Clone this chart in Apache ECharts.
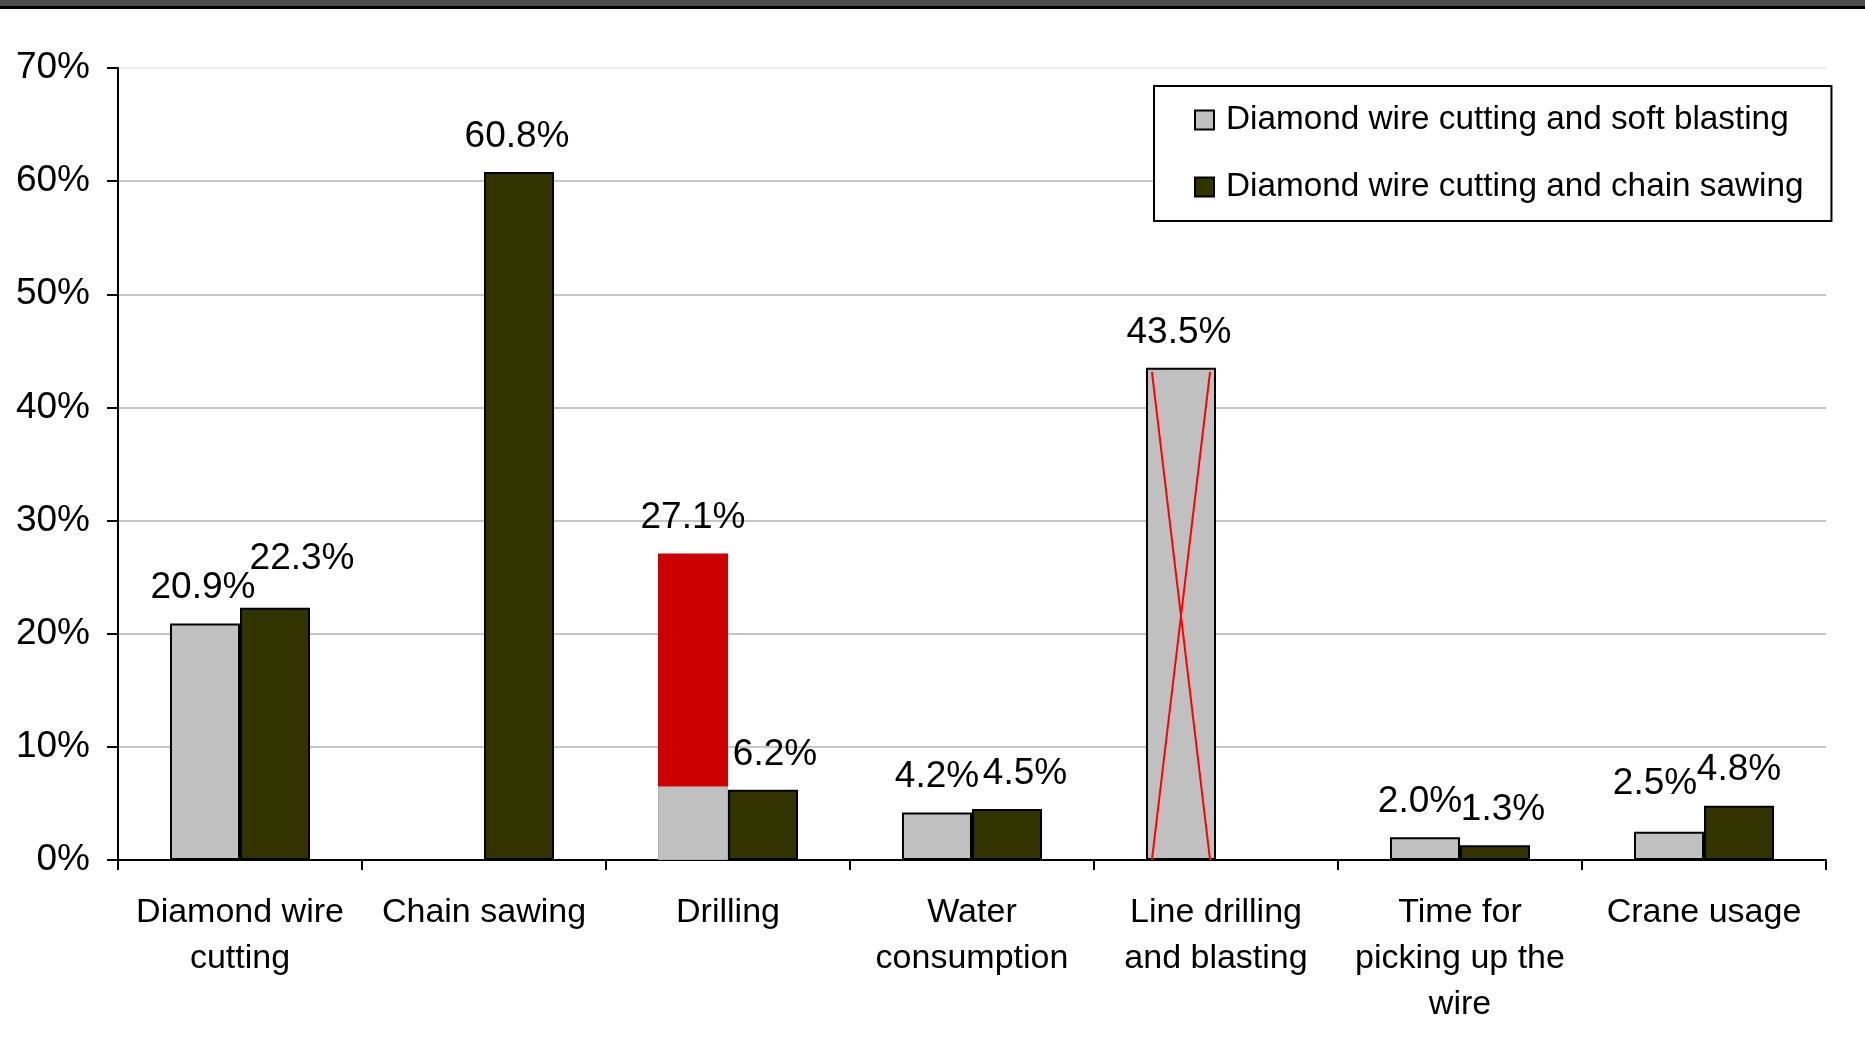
<!DOCTYPE html>
<html>
<head>
<meta charset="utf-8">
<script src="https://cdn.jsdelivr.net/npm/echarts@6/dist/echarts.min.js"></script>
<style>
html,body{margin:0;padding:0;background:#fff;}
#chart{width:1865px;height:1059px;}
</style>
</head>
<body>
<div id="chart"></div>
<script>
// ---- data ----
const categories = ['Diamond wire\ncutting', 'Chain sawing', 'Drilling', 'Water\nconsumption', 'Line drilling\nand blasting', 'Time for\npicking up the\nwire', 'Crane usage'];
const seriesNames = ['Diamond wire cutting and soft blasting', 'Diamond wire cutting and chain sawing'];
const softBlasting = [20.9, null, 27.1, 4.2, 43.5, 2.0, 2.5];
const chainSawing = [22.3, 60.8, 6.2, 4.5, null, 1.3, 4.8];
const drillingIndex = 2;          // bar highlighted in red above the gray part
const drillingGrayPart = 6.5;     // gray portion left at the bottom of the Drilling bar
const crossedIndex = 4;           // bar crossed out with a red X
const yTicks = [0, 10, 20, 30, 40, 50, 60, 70];

// ---- label nudges (layout only, px) ----
const softLabelShift = [[-2,0],[0,0],[0,0],[0,0],[-2,0],[-5,0],[-14,-12]];
const chainLabelShift = [[27,-13],[-2,0],[12,0],[18,0],[0,0],[8,0],[0,0]];

const FONT = "'Liberation Sans', Arial, sans-serif";
const GRAY = '#c0c0c0', DARK = '#333300', RED = '#cc0000';
const BAR_W = '28.7%';

const labelBase = {show:true, position:'top', distance:17, fontSize:37, lineHeight:37, color:'#000', fontFamily:FONT};

const grayData = softBlasting.map((v, i) => {
  if (v === null) return '-';
  if (i === drillingIndex) {
    return {value: drillingGrayPart, itemStyle:{borderColor:'#b0b0b0', borderWidth:1}, label:{show:false}};
  }
  return {value: v, label:Object.assign({}, labelBase, {offset: softLabelShift[i], formatter: v.toFixed(1) + '%'})};
});
const redData = softBlasting.map((v, i) => {
  if (i !== drillingIndex) return '-';
  return {value: +(v - drillingGrayPart).toFixed(1),
    label:Object.assign({}, labelBase, {offset: softLabelShift[i], formatter: v.toFixed(1) + '%'})};
});
const darkData = chainSawing.map((v, i) => {
  if (v === null) return '-';
  return {value: v, label:Object.assign({}, labelBase, {offset: chainLabelShift[i], formatter: v.toFixed(1) + '%'})};
});

const chart = echarts.init(document.getElementById('chart'), null, {renderer:'canvas'});
chart.setOption({
  animation:false,
  backgroundColor:'#fff',
  textStyle:{fontFamily:FONT},
  graphic:[
    {type:'rect', left:0, top:0, shape:{width:1865, height:6}, style:{fill:'#4d4d4d'}, z:100},
    {type:'rect', left:0, top:6, shape:{width:1865, height:3}, style:{fill:'#000'}, z:100}
  ],
  grid:{left:118, right:39, top:68, bottom:199, containLabel:false},
  legend:{
    orient:'vertical', left:1154, top:86,
    padding:[14, 28, 14, 40], itemGap:27, itemWidth:19, itemHeight:19,
    borderColor:'#000', borderWidth:2, backgroundColor:'#fff',
    textStyle:{fontSize:33.3, fontFamily:FONT, color:'#000', lineHeight:40, padding:[0,0,0,7]},
    data:[{name:seriesNames[0], icon:'rect'}, {name:seriesNames[1], icon:'rect'}]
  },
  xAxis:{
    type:'category', data:categories,
    axisLine:{lineStyle:{color:'#000', width:2}},
    axisTick:{show:true, length:10, lineStyle:{color:'#000', width:2}},
    axisLabel:{fontSize:34, lineHeight:46, color:'#000', margin:30, fontFamily:FONT, interval:0},
    splitLine:{show:false}
  },
  yAxis:{
    type:'value', min:yTicks[0], max:yTicks[yTicks.length-1], interval:10,
    axisLine:{show:true, lineStyle:{color:'#000', width:2}},
    axisTick:{show:true, length:11, lineStyle:{color:'#000', width:2}},
    axisLabel:{fontSize:37, color:'#000', margin:28, fontFamily:FONT, formatter:'{value}%'},
    splitLine:{show:true, lineStyle:{color:['#c6c6c6','#c6c6c6','#c6c6c6','#c6c6c6','#c6c6c6','#c6c6c6','#c6c6c6','#ededed'], width:2}}
  },
  series:[
    {name:seriesNames[0], type:'bar', stack:'soft', barWidth:BAR_W, barGap:'0%',
     itemStyle:{color:GRAY, borderColor:'#000', borderWidth:2}, data:grayData},
    {name:'highlight', type:'bar', stack:'soft', barWidth:BAR_W, barGap:'0%',
     itemStyle:{color:RED, borderWidth:0}, data:redData},
    {name:seriesNames[1], type:'bar', barWidth:BAR_W, barGap:'0%',
     itemStyle:{color:DARK, borderColor:'#000', borderWidth:2}, data:darkData},
    {name:'cross', type:'custom', z:10,
     renderItem:function(params, api){
       const idx = api.value(0), v = api.value(1);
       const top = api.coord([idx, v]);
       const base = api.coord([idx, 0]);
       const band = api.size([1, 0])[0];
       const bw = band * 0.287;
       const left = top[0] - bw, right = top[0];
       const inset = bw * 0.085;
       const st = {stroke:'#ff0000', lineWidth:2};
       return {type:'group', children:[
         {type:'line', shape:{x1:left+inset, y1:top[1]+4, x2:right-inset, y2:base[1]}, style:st},
         {type:'line', shape:{x1:right-inset, y1:top[1]+4, x2:left+inset, y2:base[1]}, style:st}
       ]};
     },
     encode:{x:0, y:1},
     data:[[crossedIndex, softBlasting[crossedIndex]]]}
  ]
});
</script>
</body>
</html>
